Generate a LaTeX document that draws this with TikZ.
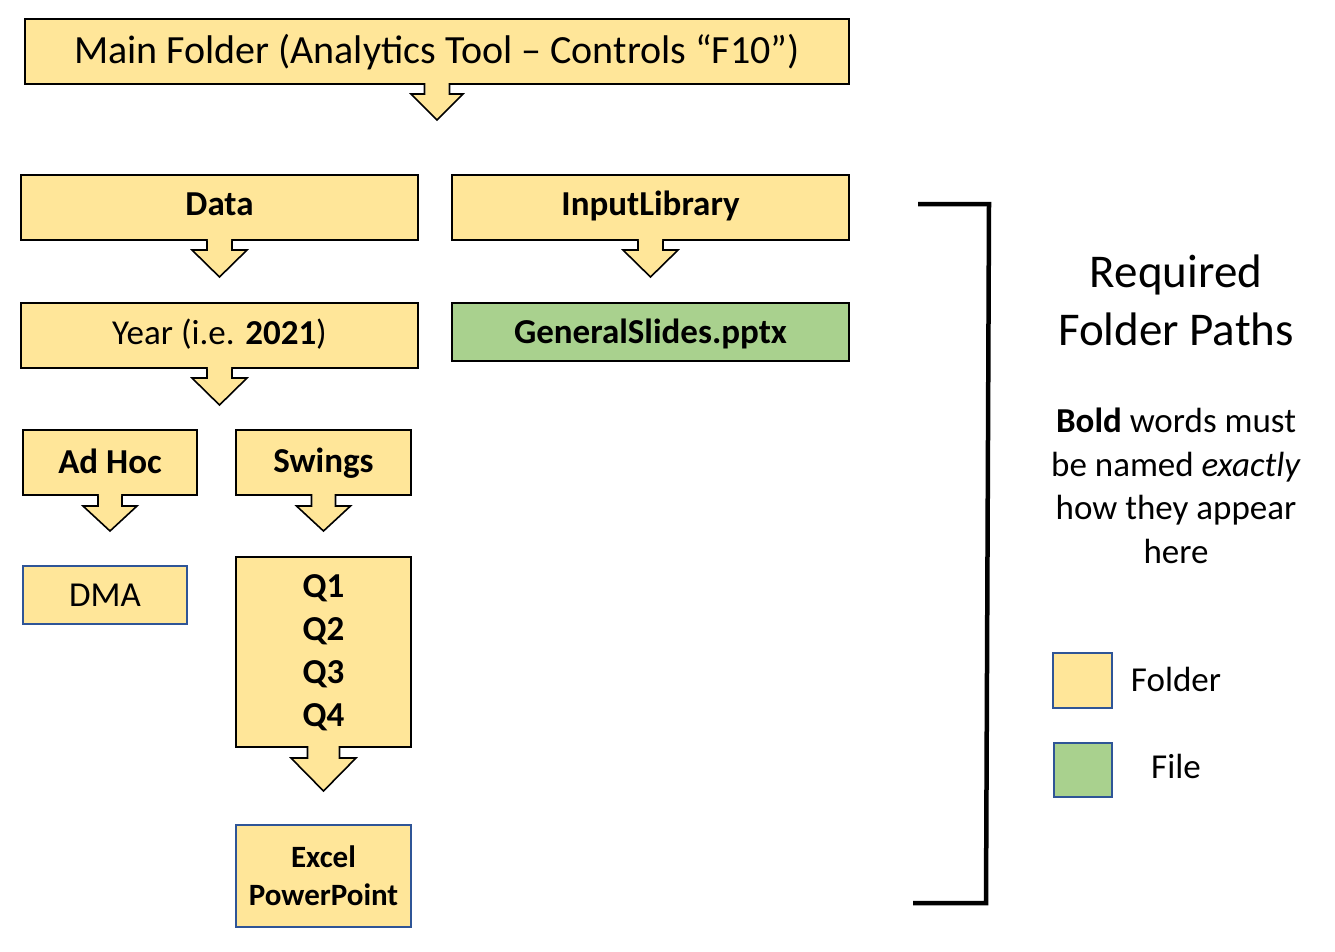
\documentclass[tikz,border=0pt]{standalone}
\usepackage{fontspec}
\setmainfont{Carlito}
\usetikzlibrary{calc}
\definecolor{foldc}{HTML}{FFE699}
\definecolor{filec}{HTML}{A9D18E}
\definecolor{bordc}{HTML}{2F5597}
\newcommand{\fsz}[2]{\fontsize{#1pt}{#2pt}\selectfont}
% block arrow below a node: #1 node, #2 shaft half width, #3 head half width, #4 shaft length, #5 head length
\newcommand{\blockarrow}[5]{%
  \path (#1.south) coordinate (ba);
  \fill[foldc] ($(ba)+(-#2+0.8,-2.5)$) -- ++(0,#4+2.5) -- ++(#2-#3,0) -- ++(#3-0.8,#5) -- ++(#3-0.8,-#5) -- ++(#2-#3,0) -- ++(0,-#4-2.5) -- cycle;
  \draw[arrline] ($(ba)+(-#2,0)$) -- ++(0,#4) -- ++(#2-#3,0) -- ++(#3,#5) -- ++(#3,-#5) -- ++(#2-#3,0) -- ++(0,-#4);
}
\tikzset{
  folder/.style={draw=black, line width=2pt, fill=foldc, inner sep=0pt},
  bfolder/.style={draw=bordc, line width=2pt, fill=foldc, inner sep=0pt},
  filebox/.style={draw=black, line width=2pt, fill=filec, inner sep=0pt},
  one/.style={text height=#1, text depth=0pt},
  one/.default=22.5pt,
  arrline/.style={draw=black, line width=1.6pt, line join=miter},
  legsq/.style={draw=bordc, line width=2pt, inner sep=0pt},
  bracket/.style={draw=black, line width=4.5pt, line cap=butt, line join=miter},
  big/.style={font=\fsz{35}{43}},
}
\begin{document}
\begin{tikzpicture}[x=1pt,y=-1pt]
\useasboundingbox[fill=white] (0,0) rectangle (1335,951);

% main boxes
\node[folder, one=25.8pt, text depth=2pt, minimum width=824pt, minimum height=65pt, font=\fsz{40}{49}] (main) at (437,51.5) {Main Folder (Analytics Tool – Controls “F10”)};
\node[folder, one, text depth=6pt, minimum width=397pt, minimum height=65pt, big] (data) at (219.5,207.5) {\textbf{Data}};
\node[folder, one, text depth=6pt, minimum width=397pt, minimum height=65pt, big] (inlib) at (650.5,207.5) {\textbf{InputLibrary}};
\node[folder, one, text depth=4pt, minimum width=397pt, minimum height=65pt, big] (year) at (219.5,335.5) {Year (i.e. \textbf{2021})};
\node[filebox, one, minimum width=397pt, minimum height=58pt, big] (gslides) at (650.5,332) {\textbf{GeneralSlides.pptx}};
\node[folder, one, minimum width=174pt, minimum height=65pt, big] (adhoc) at (110,462.5) {\textbf{Ad Hoc}};
\node[folder, one, text depth=2pt, minimum width=175pt, minimum height=65pt, big] (swings) at (323.5,462.5) {\textbf{Swings}};
\node[bfolder, one, minimum width=164pt, minimum height=58pt, big] (dma) at (105,595) {DMA};
\node[folder, minimum width=175pt, minimum height=190pt, big, align=center] (qbox) at (323.5,652) {\rule{0pt}{25pt}\textbf{Q1}\\\textbf{Q2}\\\textbf{Q3}\\\textbf{Q4}};
\node[bfolder, minimum width=175pt, minimum height=102pt, font=\fsz{31}{38}, align=center] (excel) at (323.5,876) {\textbf{Excel}\\\textbf{PowerPoint}};

% block arrows
\blockarrow{main}{12.5}{26}{9}{26}
\blockarrow{data}{12.5}{27.5}{9}{27}
\blockarrow{inlib}{12.5}{27.5}{9}{27}
\blockarrow{year}{12.5}{27.5}{9}{27}
\blockarrow{adhoc}{12}{27}{10}{25}
\blockarrow{swings}{12}{27}{10}{25}
\blockarrow{qbox}{16}{32.5}{10}{33}

% bracket
\coordinate (b1) at (918,204);
\coordinate (b2) at (989,204);
\coordinate (b3) at (986,903);
\coordinate (b4) at (913,903);
\draw[bracket] (b1) -- (b2) -- (b3) -- (b4);

% legend
\node[font=\fsz{47}{58}, align=center] (title) at (1176,300) {Required\\Folder Paths};
\node[font=\fsz{35}{43.5}, align=center] (note) at (1176,486) {\textbf{Bold} words must\\be named \textit{exactly}\\how they appear\\here};
\node[legsq, fill=foldc, minimum width=59pt, minimum height=55pt] (lfold) at (1082.5,680.5) {};
\node[legsq, fill=filec, minimum width=58pt, minimum height=54pt] (lfile) at (1083,770) {};
\node[one, font=\fsz{35}{43}] (tfold) at (1176,680) {Folder};
\node[one, font=\fsz{35}{43}] (tfile) at (1176,767) {File};
\end{tikzpicture}
\end{document}
